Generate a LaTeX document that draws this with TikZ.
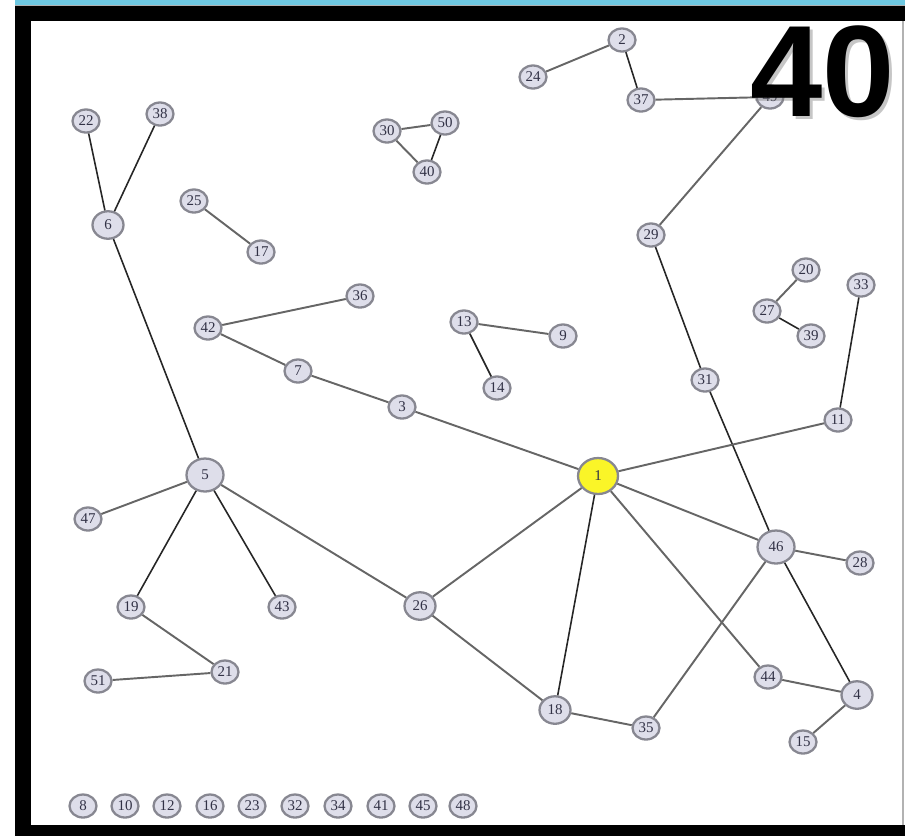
\documentclass[tikz,border=0pt]{standalone}
\usepackage{fontspec}
\usepackage{xcolor}
\setmainfont{Liberation Serif}
\newfontfamily\headfont{Liberation Sans}
\usetikzlibrary{shapes.geometric}
\definecolor{framecyan}{RGB}{110,200,225}
\definecolor{nodefill}{RGB}{222,222,234}
\definecolor{nodeborder}{RGB}{135,135,145}
\definecolor{nodetext}{RGB}{50,50,70}
\definecolor{hubyellow}{RGB}{250,245,40}

\begin{document}
\begin{tikzpicture}[
  x=0.02cm, y=-0.02cm,
  vertex/.style={ellipse, draw=nodeborder, line width=1.3pt, fill=nodefill,
    inner sep=0pt, minimum width=0.54cm, minimum height=0.46cm,
    text=nodetext, font=\fontsize{8.5}{9}\selectfont},
  mid vertex/.style={vertex, minimum width=0.62cm, minimum height=0.55cm},
  big vertex/.style={vertex, minimum width=0.74cm, minimum height=0.66cm},
  hub/.style={big vertex, fill=hubyellow, minimum width=0.8cm, minimum height=0.72cm},
  dark edge/.style={draw=black!85, line width=0.9pt},
  pale edge/.style={draw=gray!80!black, line width=1.1pt},
]
\useasboundingbox (0,0) rectangle (905,836);

%% Frame
\fill[framecyan] (15,0) rectangle (905,4.5);
\draw[gray!60, line width=0.6pt] (15,5.2) -- (905,5.2);
\fill[black] (15,6) rectangle (905,21);
\fill[black] (15,6) rectangle (31,836);
\fill[black] (15,825) rectangle (905,836);
\draw[gray!60, line width=0.8pt] (903,21) -- (903,825);

%% ---- Vertices ----
\node[hub]        (n1)  at (598,476) {1};
\node[vertex]     (n2)  at (622,40)  {2};
\node[vertex]     (n3)  at (402,407) {3};
\node[mid vertex] (n4)  at (857,695) {4};
\node[big vertex] (n5)  at (205,475) {5};
\node[mid vertex] (n6)  at (108,225) {6};
\node[vertex]     (n7)  at (298,371) {7};
\node[vertex]     (n9)  at (563,336) {9};
\node[vertex]     (n11) at (838,420) {11};
\node[vertex]     (n13) at (464,322) {13};
\node[vertex]     (n14) at (497,388) {14};
\node[vertex]     (n15) at (803,742) {15};
\node[vertex]     (n17) at (261,252) {17};
\node[mid vertex] (n18) at (555,710) {18};
\node[vertex]     (n19) at (131,607) {19};
\node[vertex]     (n20) at (806,270) {20};
\node[vertex]     (n21) at (225,672) {21};
\node[vertex]     (n22) at (86,121)  {22};
\node[vertex]     (n24) at (533,77)  {24};
\node[vertex]     (n25) at (194,201) {25};
\node[mid vertex] (n26) at (420,606) {26};
\node[vertex]     (n27) at (767,311) {27};
\node[vertex]     (n28) at (860,563) {28};
\node[vertex]     (n29) at (651,235) {29};
\node[vertex]     (n30) at (387,131) {30};
\node[vertex]     (n31) at (705,380) {31};
\node[vertex]     (n33) at (861,285) {33};
\node[vertex]     (n35) at (646,728) {35};
\node[vertex]     (n36) at (360,296) {36};
\node[vertex]     (n37) at (641,100) {37};
\node[vertex]     (n38) at (160,114) {38};
\node[vertex]     (n39) at (811,336) {39};
\node[vertex]     (n40) at (427,172) {40};
\node[vertex]     (n42) at (208,328) {42};
\node[vertex]     (n43) at (282,607) {43};
\node[vertex]     (n44) at (768,677) {44};
\node[big vertex] (n46) at (776,547) {46};
\node[vertex]     (n47) at (88,519)  {47};
\node[vertex]     (n49) at (770,97)  {49};
\node[vertex]     (n50) at (445,123) {50};
\node[vertex]     (n51) at (98,681)  {51};

%% Isolated vertices along the bottom
\node[vertex] (n8)  at (83,806)  {8};
\node[vertex] (n10) at (125,806) {10};
\node[vertex] (n12) at (167,806) {12};
\node[vertex] (n16) at (210,806) {16};
\node[vertex] (n23) at (252,806) {23};
\node[vertex] (n32) at (295,806) {32};
\node[vertex] (n34) at (338,806) {34};
\node[vertex] (n41) at (381,806) {41};
\node[vertex] (n45) at (423,806) {45};
\node[vertex] (n48) at (463,806) {48};

%% ---- Edges ----
\draw[pale edge] (n2) -- (n24);
\draw[dark edge] (n2) -- (n37);
\draw[pale edge] (n37) -- (n49);
\draw[pale edge] (n49) -- (n29);
\draw[dark edge] (n29) -- (n31);
\draw[dark edge] (n31) -- (n46);
\draw[dark edge] (n22) -- (n6);
\draw[dark edge] (n38) -- (n6);
\draw[dark edge] (n6) -- (n5);
\draw[pale edge] (n30) -- (n50);
\draw[dark edge] (n50) -- (n40);
\draw[pale edge] (n30) -- (n40);
\draw[pale edge] (n25) -- (n17);
\draw[pale edge] (n27) -- (n20);
\draw[dark edge] (n27) -- (n39);
\draw[dark edge] (n33) -- (n11);
\draw[pale edge] (n11) -- (n1);
\draw[pale edge] (n42) -- (n36);
\draw[pale edge] (n42) -- (n7);
\draw[pale edge] (n7) -- (n3);
\draw[pale edge] (n3) -- (n1);
\draw[pale edge] (n13) -- (n9);
\draw[dark edge] (n13) -- (n14);
\draw[pale edge] (n5) -- (n47);
\draw[dark edge] (n5) -- (n19);
\draw[dark edge] (n5) -- (n43);
\draw[pale edge] (n5) -- (n26);
\draw[pale edge] (n19) -- (n21);
\draw[pale edge] (n21) -- (n51);
\draw[pale edge] (n1) -- (n26);
\draw[dark edge] (n1) -- (n18);
\draw[pale edge] (n1) -- (n44);
\draw[pale edge] (n1) -- (n46);
\draw[pale edge] (n26) -- (n18);
\draw[pale edge] (n18) -- (n35);
\draw[pale edge] (n35) -- (n46);
\draw[pale edge] (n46) -- (n28);
\draw[dark edge] (n46) -- (n4);
\draw[pale edge] (n44) -- (n4);
\draw[pale edge] (n4) -- (n15);

%% Big number, top right
\node[gray, opacity=0.45, inner sep=0pt, font=\headfont\bfseries\fontsize{74}{74}\selectfont]
  at (826,75) {40};
\node[black, inner sep=0pt, font=\headfont\bfseries\fontsize{74}{74}\selectfont]
  (headnum) at (823,72) {40};

\end{tikzpicture}
\end{document}
